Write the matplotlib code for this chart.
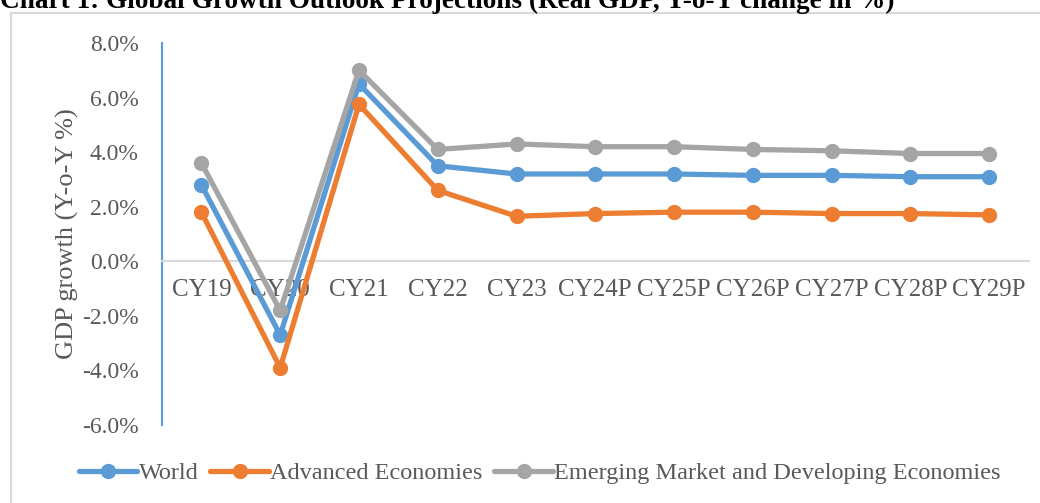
import matplotlib.pyplot as plt
from matplotlib.patches import Rectangle
from matplotlib.ticker import FuncFormatter

years = ['CY19', 'CY20', 'CY21', 'CY22', 'CY23', 'CY24P', 'CY25P', 'CY26P', 'CY27P', 'CY28P', 'CY29P']
world = [2.8, -2.7, 6.5, 3.5, 3.2, 3.2, 3.2, 3.15, 3.15, 3.1, 3.1]
advanced = [1.8, -3.9, 5.75, 2.6, 1.65, 1.75, 1.8, 1.8, 1.75, 1.75, 1.7]
emde = [3.6, -1.8, 7.0, 4.1, 4.3, 4.2, 4.2, 4.1, 4.05, 3.95, 3.95]

plt.rcParams['font.family'] = ['Liberation Serif', 'DejaVu Serif']

fig = plt.figure(figsize=(10.4, 5.03), dpi=100)
ax = fig.add_axes([0.1558, 0.155, 0.989 - 0.1558, 0.9145 - 0.155])

# chart border like the spreadsheet frame
fig.patches.append(Rectangle((11 / 1040, -0.05), 1.2, 0.974 + 0.05, transform=fig.transFigure,
                             fill=False, edgecolor='#d9d9d9', linewidth=1.5))

fig.text(0.0, 1 - 8 / 503, 'Chart 1: Global Growth Outlook Projections (Real GDP, Y-o-Y change in %)',
         fontsize=19.6, fontweight='bold', va='baseline', ha='left')

x = range(len(years))
series = [('World', world, '#5b9bd5'),
          ('Advanced Economies', advanced, '#ed7d31'),
          ('Emerging Market and Developing Economies', emde, '#a5a5a5')]
for name, vals, col in series:
    ax.plot(x, vals, color=col, linewidth=3.8, marker='o', markersize=10, label=name,
            solid_capstyle='round', zorder=3)

ax.set_xlim(-0.5, len(years) - 0.5)
ax.set_ylim(-6, 8)
ax.set_yticks(range(-6, 9, 2))
ax.yaxis.set_major_formatter(FuncFormatter(lambda v, p: f'{v:.1f}%'))
ax.tick_params(axis='y', length=0, pad=17, labelsize=17, labelcolor='#595959')

ax.spines['top'].set_visible(False)
ax.spines['right'].set_visible(False)
ax.spines['left'].set_color('#5b9bd5')
ax.spines['left'].set_linewidth(1.5)
ax.spines['bottom'].set_position(('data', 0))
ax.spines['bottom'].set_color('#d9d9d9')
ax.spines['bottom'].set_linewidth(1.5)

ax.set_xticks(list(x))
ax.set_xticklabels(years)
ax.tick_params(axis='x', length=0, pad=13, labelsize=18, labelcolor='#595959')

ax.set_ylabel('GDP growth (Y-o-Y %)', fontsize=19, color='#595959', labelpad=2)

fig.legend(loc='center', bbox_to_anchor=(0.519, 1 - 473 / 503), ncol=3, frameon=False,
           fontsize=17.5, handlelength=2.4, columnspacing=0.5, handletextpad=0.05,
           labelcolor='#595959')

fig.savefig('out.png', dpi=100)
